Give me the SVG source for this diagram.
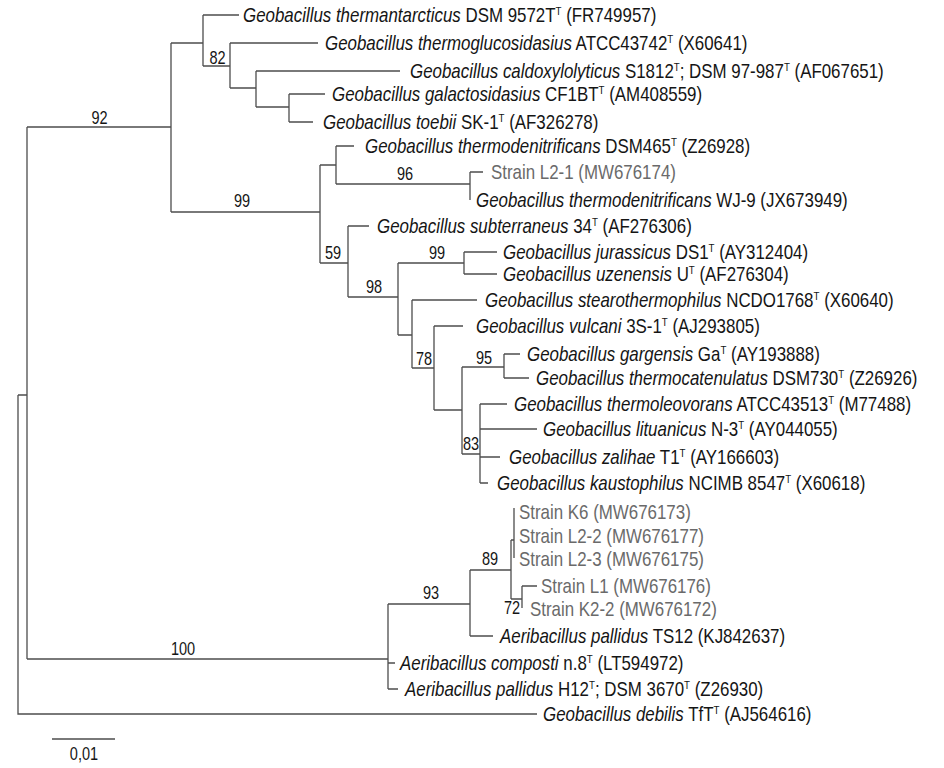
<svg xmlns="http://www.w3.org/2000/svg" width="944" height="768" viewBox="0 0 944 768">
<style>
text{font-family:"Liberation Sans","DejaVu Sans",sans-serif;font-size:20px;fill:#151515}
.i{font-style:italic}
.g{fill:#6a6a6a}
.s{font-size:11.5px}
.b{font-size:17.5px;text-anchor:middle}
.e{fill:none;stroke:#4d4d4d;stroke-width:1.3}
</style>
<rect width="944" height="768" fill="#fff"/>
<g id="connectors" class="e">
<path d="M18,395V714H537M18,395H27M27,127V659"/>
<path d="M27,127H171M171,43V212M171,43H203M203,15V66M203,15H239M203,66H230M230,43V88M230,43H318M230,88H256M256,71V107M256,71H400M256,107H289M289,94V122M289,94H325M289,122H313"/>
<path d="M171,212H320M320,165V263M320,165H336M336,146V184M336,146H354M336,184H470M470,172V200M470,172H483"/>
<path d="M320,263H348M348,226V297M348,226H369M348,297H398M398,263V335M398,263H464M464,252V274M464,252H497M464,274H497M398,335H412M412,300V368M412,300H477M412,368H434M434,326V410M434,326H463M434,410H462M462,367V454M462,367H504M504,354V378M504,354H520M504,378H529M462,454H480M480,404V483M480,404H507M480,429H537M480,457H500M480,483H488"/>
<path d="M27,659H388M388,604V689M388,663H395M388,689H398M388,604H470M470,570V636M470,636H493M470,570H511M511,540V599M511,540H514M514,508V558M511,599H522M522,586V608M522,586H537"/>
<path d="M52,739H115"/>
</g>
<g id="support">
<text class="b" transform="translate(99.5,124) scale(0.83,1)">92</text>
<text class="b" transform="translate(217.5,64) scale(0.83,1)">82</text>
<text class="b" transform="translate(242,207) scale(0.83,1)">99</text>
<text class="b" transform="translate(405,180) scale(0.83,1)">96</text>
<text class="b" transform="translate(333,259) scale(0.83,1)">59</text>
<text class="b" transform="translate(374,293) scale(0.83,1)">98</text>
<text class="b" transform="translate(437,259) scale(0.83,1)">99</text>
<text class="b" transform="translate(424,365) scale(0.83,1)">78</text>
<text class="b" transform="translate(484,364) scale(0.83,1)">95</text>
<text class="b" transform="translate(471,450) scale(0.83,1)">83</text>
<text class="b" transform="translate(183,655) scale(0.83,1)">100</text>
<text class="b" transform="translate(431,599) scale(0.83,1)">93</text>
<text class="b" transform="translate(490,565) scale(0.83,1)">89</text>
<text class="b" transform="translate(512,614) scale(0.83,1)">72</text>
</g>
<g id="t1"><text transform="translate(243,21.5) scale(0.845,1)"><tspan class="i">Geobacillus thermantarcticus</tspan> DSM 9572T<tspan class="s" dy="-6.5">T</tspan><tspan dy="6.5"> (FR749957)</tspan></text></g>
<g id="t2"><text transform="translate(325,49.5) scale(0.845,1)"><tspan class="i">Geobacillus thermoglucosidasius</tspan> ATCC43742<tspan class="s" dy="-6.5">T</tspan><tspan dy="6.5"> (X60641)</tspan></text></g>
<g id="t3"><text transform="translate(410,77.5) scale(0.845,1)"><tspan class="i">Geobacillus caldoxylolyticus</tspan> S1812<tspan class="s" dy="-6.5">T</tspan><tspan dy="6.5">; DSM 97-987</tspan><tspan class="s" dy="-6.5">T</tspan><tspan dy="6.5"> (AF067651)</tspan></text></g>
<g id="t4"><text transform="translate(332,100.5) scale(0.845,1)"><tspan class="i">Geobacillus galactosidasius</tspan> CF1BT<tspan class="s" dy="-6.5">T</tspan><tspan dy="6.5"> (AM408559)</tspan></text></g>
<g id="t5"><text transform="translate(323,128.5) scale(0.845,1)"><tspan class="i">Geobacillus toebii</tspan> SK-1<tspan class="s" dy="-6.5">T</tspan><tspan dy="6.5"> (AF326278)</tspan></text></g>
<g id="t6"><text transform="translate(365,152.5) scale(0.845,1)"><tspan class="i">Geobacillus thermodenitrificans</tspan> DSM465<tspan class="s" dy="-6.5">T</tspan><tspan dy="6.5"> (Z26928)</tspan></text></g>
<g id="t7"><text class="g" transform="translate(491,178.5) scale(0.845,1)">Strain L2-1 (MW676174)</text></g>
<g id="t8"><text transform="translate(476,206.5) scale(0.845,1)"><tspan class="i">Geobacillus thermodenitrificans</tspan> WJ-9 (JX673949)</text></g>
<g id="t9"><text transform="translate(377,232.5) scale(0.845,1)"><tspan class="i">Geobacillus subterraneus</tspan> 34<tspan class="s" dy="-6.5">T</tspan><tspan dy="6.5"> (AF276306)</tspan></text></g>
<g id="t10"><text transform="translate(503,258.5) scale(0.845,1)"><tspan class="i">Geobacillus jurassicus</tspan> DS1<tspan class="s" dy="-6.5">T</tspan><tspan dy="6.5"> (AY312404)</tspan></text></g>
<g id="t11"><text transform="translate(503,280.5) scale(0.845,1)"><tspan class="i">Geobacillus uzenensis</tspan> U<tspan class="s" dy="-6.5">T</tspan><tspan dy="6.5"> (AF276304)</tspan></text></g>
<g id="t12"><text transform="translate(485,306.5) scale(0.845,1)"><tspan class="i">Geobacillus stearothermophilus</tspan> NCDO1768<tspan class="s" dy="-6.5">T</tspan><tspan dy="6.5"> (X60640)</tspan></text></g>
<g id="t13"><text transform="translate(476,332.5) scale(0.845,1)"><tspan class="i">Geobacillus vulcani</tspan> 3S-1<tspan class="s" dy="-6.5">T</tspan><tspan dy="6.5"> (AJ293805)</tspan></text></g>
<g id="t14"><text transform="translate(527,360.5) scale(0.845,1)"><tspan class="i">Geobacillus gargensis</tspan> Ga<tspan class="s" dy="-6.5">T</tspan><tspan dy="6.5"> (AY193888)</tspan></text></g>
<g id="t15"><text transform="translate(536,384.5) scale(0.845,1)"><tspan class="i">Geobacillus thermocatenulatus</tspan> DSM730<tspan class="s" dy="-6.5">T</tspan><tspan dy="6.5"> (Z26926)</tspan></text></g>
<g id="t16"><text transform="translate(514,410.5) scale(0.845,1)"><tspan class="i">Geobacillus thermoleovorans</tspan> ATCC43513<tspan class="s" dy="-6.5">T</tspan><tspan dy="6.5"> (M77488)</tspan></text></g>
<g id="t17"><text transform="translate(543,435.5) scale(0.845,1)"><tspan class="i">Geobacillus lituanicus</tspan> N-3<tspan class="s" dy="-6.5">T</tspan><tspan dy="6.5"> (AY044055)</tspan></text></g>
<g id="t18"><text transform="translate(509,463.5) scale(0.845,1)"><tspan class="i">Geobacillus zalihae</tspan> T1<tspan class="s" dy="-6.5">T</tspan><tspan dy="6.5"> (AY166603)</tspan></text></g>
<g id="t19"><text transform="translate(497,489.5) scale(0.845,1)"><tspan class="i">Geobacillus kaustophilus</tspan> NCIMB 8547<tspan class="s" dy="-6.5">T</tspan><tspan dy="6.5"> (X60618)</tspan></text></g>
<g id="t20"><text class="g" transform="translate(519,518.5) scale(0.845,1)">Strain K6 (MW676173)</text></g>
<g id="t21"><text class="g" transform="translate(519,542.5) scale(0.845,1)">Strain L2-2 (MW676177)</text></g>
<g id="t22"><text class="g" transform="translate(519,565.5) scale(0.845,1)">Strain L2-3 (MW676175)</text></g>
<g id="t23"><text class="g" transform="translate(541,592.5) scale(0.845,1)">Strain L1 (MW676176)</text></g>
<g id="t24"><text class="g" transform="translate(530,615.5) scale(0.845,1)">Strain K2-2 (MW676172)</text></g>
<g id="t25"><text transform="translate(500,642.5) scale(0.845,1)"><tspan class="i">Aeribacillus pallidus</tspan> TS12 (KJ842637)</text></g>
<g id="t26"><text transform="translate(400,669.5) scale(0.845,1)"><tspan class="i">Aeribacillus composti</tspan> n.8<tspan class="s" dy="-6.5">T</tspan><tspan dy="6.5"> (LT594972)</tspan></text></g>
<g id="t27"><text transform="translate(405,695.5) scale(0.845,1)"><tspan class="i">Aeribacillus pallidus</tspan> H12<tspan class="s" dy="-6.5">T</tspan><tspan dy="6.5">; DSM 3670</tspan><tspan class="s" dy="-6.5">T</tspan><tspan dy="6.5"> (Z26930)</tspan></text></g>
<g id="t28"><text transform="translate(543,720.5) scale(0.845,1)"><tspan class="i">Geobacillus debilis</tspan> TfT<tspan class="s" dy="-6.5">T</tspan><tspan dy="6.5"> (AJ564616)</tspan></text></g>
<g id="scale"><text class="b" transform="translate(84,760) scale(0.83,1)">0,01</text></g>
</svg>
